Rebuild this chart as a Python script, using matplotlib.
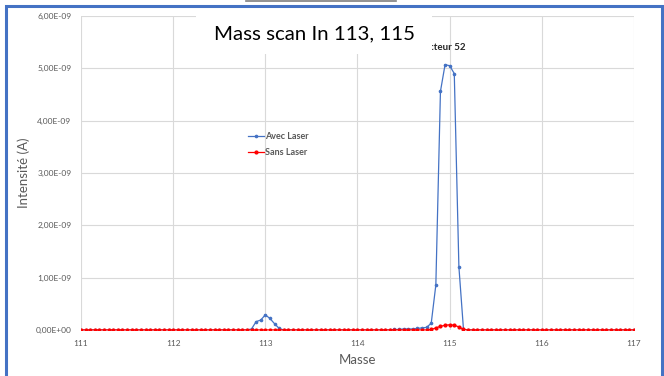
import matplotlib.pyplot as plt
from matplotlib.patches import Rectangle
from matplotlib.lines import Line2D
from matplotlib.ticker import FuncFormatter, MultipleLocator

plt.rcParams['font.family'] = ['Lato', 'DejaVu Sans']

# mass scan, step 0.05 from 111 to 117
masses = [round(111 + 0.05 * i, 2) for i in range(121)]

# intensities in units of 1e-9 A
avec_laser = [
    0, 0, 0, 0, 0, 0, 0, 0, 0, 0, 0, 0, 0, 0, 0, 0, 0, 0, 0, 0,   # 111.00 - 111.95
    0, 0, 0, 0, 0, 0, 0, 0, 0, 0, 0, 0, 0, 0, 0, 0, 0, 0.02, 0.16, 0.19,   # 112.00 - 112.95
    0.29, 0.22, 0.12, 0.03, 0, 0, 0, 0, 0, 0, 0, 0, 0, 0, 0, 0, 0, 0, 0, 0,   # 113.00 - 113.95
    0, 0, 0, 0, 0, 0, 0, 0, 0.01, 0.01, 0.02, 0.02, 0.02, 0.03, 0.04, 0.05, 0.13, 0.86, 4.56, 5.07,   # 114.00 - 114.95
    5.05, 4.90, 1.21, 0.01, 0, 0, 0, 0, 0, 0, 0, 0, 0, 0, 0, 0, 0, 0, 0, 0,   # 115.00 - 115.95
    0, 0, 0, 0, 0, 0, 0, 0, 0, 0, 0, 0, 0, 0, 0, 0, 0, 0, 0, 0,   # 116.00 - 116.95
    0,   # 117.00
]
sans_laser = [
    0, 0, 0, 0, 0, 0, 0, 0, 0, 0, 0, 0, 0, 0, 0, 0, 0, 0, 0, 0,
    0, 0, 0, 0, 0, 0, 0, 0, 0, 0, 0, 0, 0, 0, 0, 0, 0, 0, 0, 0,
    0, 0, 0, 0, 0, 0, 0, 0, 0, 0, 0, 0, 0, 0, 0, 0, 0, 0, 0, 0,
    0, 0, 0, 0, 0, 0, 0, 0, 0, 0, 0, 0, 0, 0, 0, 0, 0.01, 0.04, 0.07, 0.09,
    0.10, 0.09, 0.06, 0.01, 0, 0, 0, 0, 0, 0, 0, 0, 0, 0, 0, 0, 0, 0, 0, 0,
    0, 0, 0, 0, 0, 0, 0, 0, 0, 0, 0, 0, 0, 0, 0, 0, 0, 0, 0, 0,
    0,
]

BLUE = '#4472C4'
RED = '#FF0000'
GREY = '#595959'

fig = plt.figure(figsize=(6.64, 3.76), dpi=100)
W, H = 664, 376
ax = fig.add_axes([81 / W, 1 - 330 / H, (634 - 81) / W, (330 - 16) / H])

ax.plot(masses, [v * 1e-9 for v in avec_laser], color=BLUE, lw=0.9,
        marker='o', ms=1.6, label='Avec Laser', zorder=3)
ax.plot(masses, [v * 1e-9 for v in sans_laser], color=RED, lw=0.9,
        marker='o', ms=2.0, label='Sans Laser', zorder=4)

ax.set_xlim(111, 117)
ax.set_ylim(0, 6e-9)
ax.xaxis.set_major_locator(MultipleLocator(1))
ax.yaxis.set_major_locator(MultipleLocator(1e-9))
ax.yaxis.set_major_formatter(FuncFormatter(lambda v, p: f"{v:.2E}".replace('.', ',')))
ax.grid(True, color='#D9D9D9', lw=0.8)
ax.set_axisbelow(True)
for s in ax.spines.values():
    s.set_visible(False)
ax.tick_params(length=0, labelsize=6, labelcolor=GREY, pad=7)

ax.set_xlabel('Masse', fontsize=9.5, color=GREY, labelpad=5)
ax.set_ylabel('Intensité (A)', fontsize=9.5, color=GREY, labelpad=4)

leg = ax.legend(loc='upper left', bbox_to_anchor=(240 / W, 1 - 124 / H),
                bbox_transform=fig.transFigure, frameon=False, fontsize=6.5,
                handlelength=1.8, handletextpad=0.05, labelspacing=0.8)
for t in leg.get_texts():
    t.set_color(GREY)
    t.set_fontweight('bold')

# partial text half hidden behind the title box
fig.text(429 / W, 1 - 47 / H, 'cteur 52', fontsize=7, fontweight='bold',
         color='#262626', va='center', ha='left')

# white box with the title
fig.patches.append(Rectangle((196 / W, 1 - 54 / H), (432 - 196) / W, 39 / H,
                             transform=fig.transFigure, facecolor='white',
                             edgecolor='none', zorder=5))
fig.text(314 / W, 1 - 34 / H, 'Mass scan In 113, 115', fontsize=14.7,
         color='black', ha='center', va='center', zorder=6)

# cut-off header above the frame
fig.lines.append(Line2D([246 / W, 396 / W], [1 - 1 / H, 1 - 1 / H],
                        transform=fig.transFigure, color='#7F7F7F', lw=1.2))
fig.text(398 / W, 1 + 4 / H, 'nm', fontsize=9, fontweight='bold',
         color='#262626', va='center', ha='left')

# blue frame
fig.patches.append(Rectangle((6 / W, -0.1), (662 - 6) / W, 1.1 - 6 / H,
                             transform=fig.transFigure, facecolor='none',
                             edgecolor=BLUE, lw=2.2, zorder=10))

fig.savefig('out.png', dpi=100)
